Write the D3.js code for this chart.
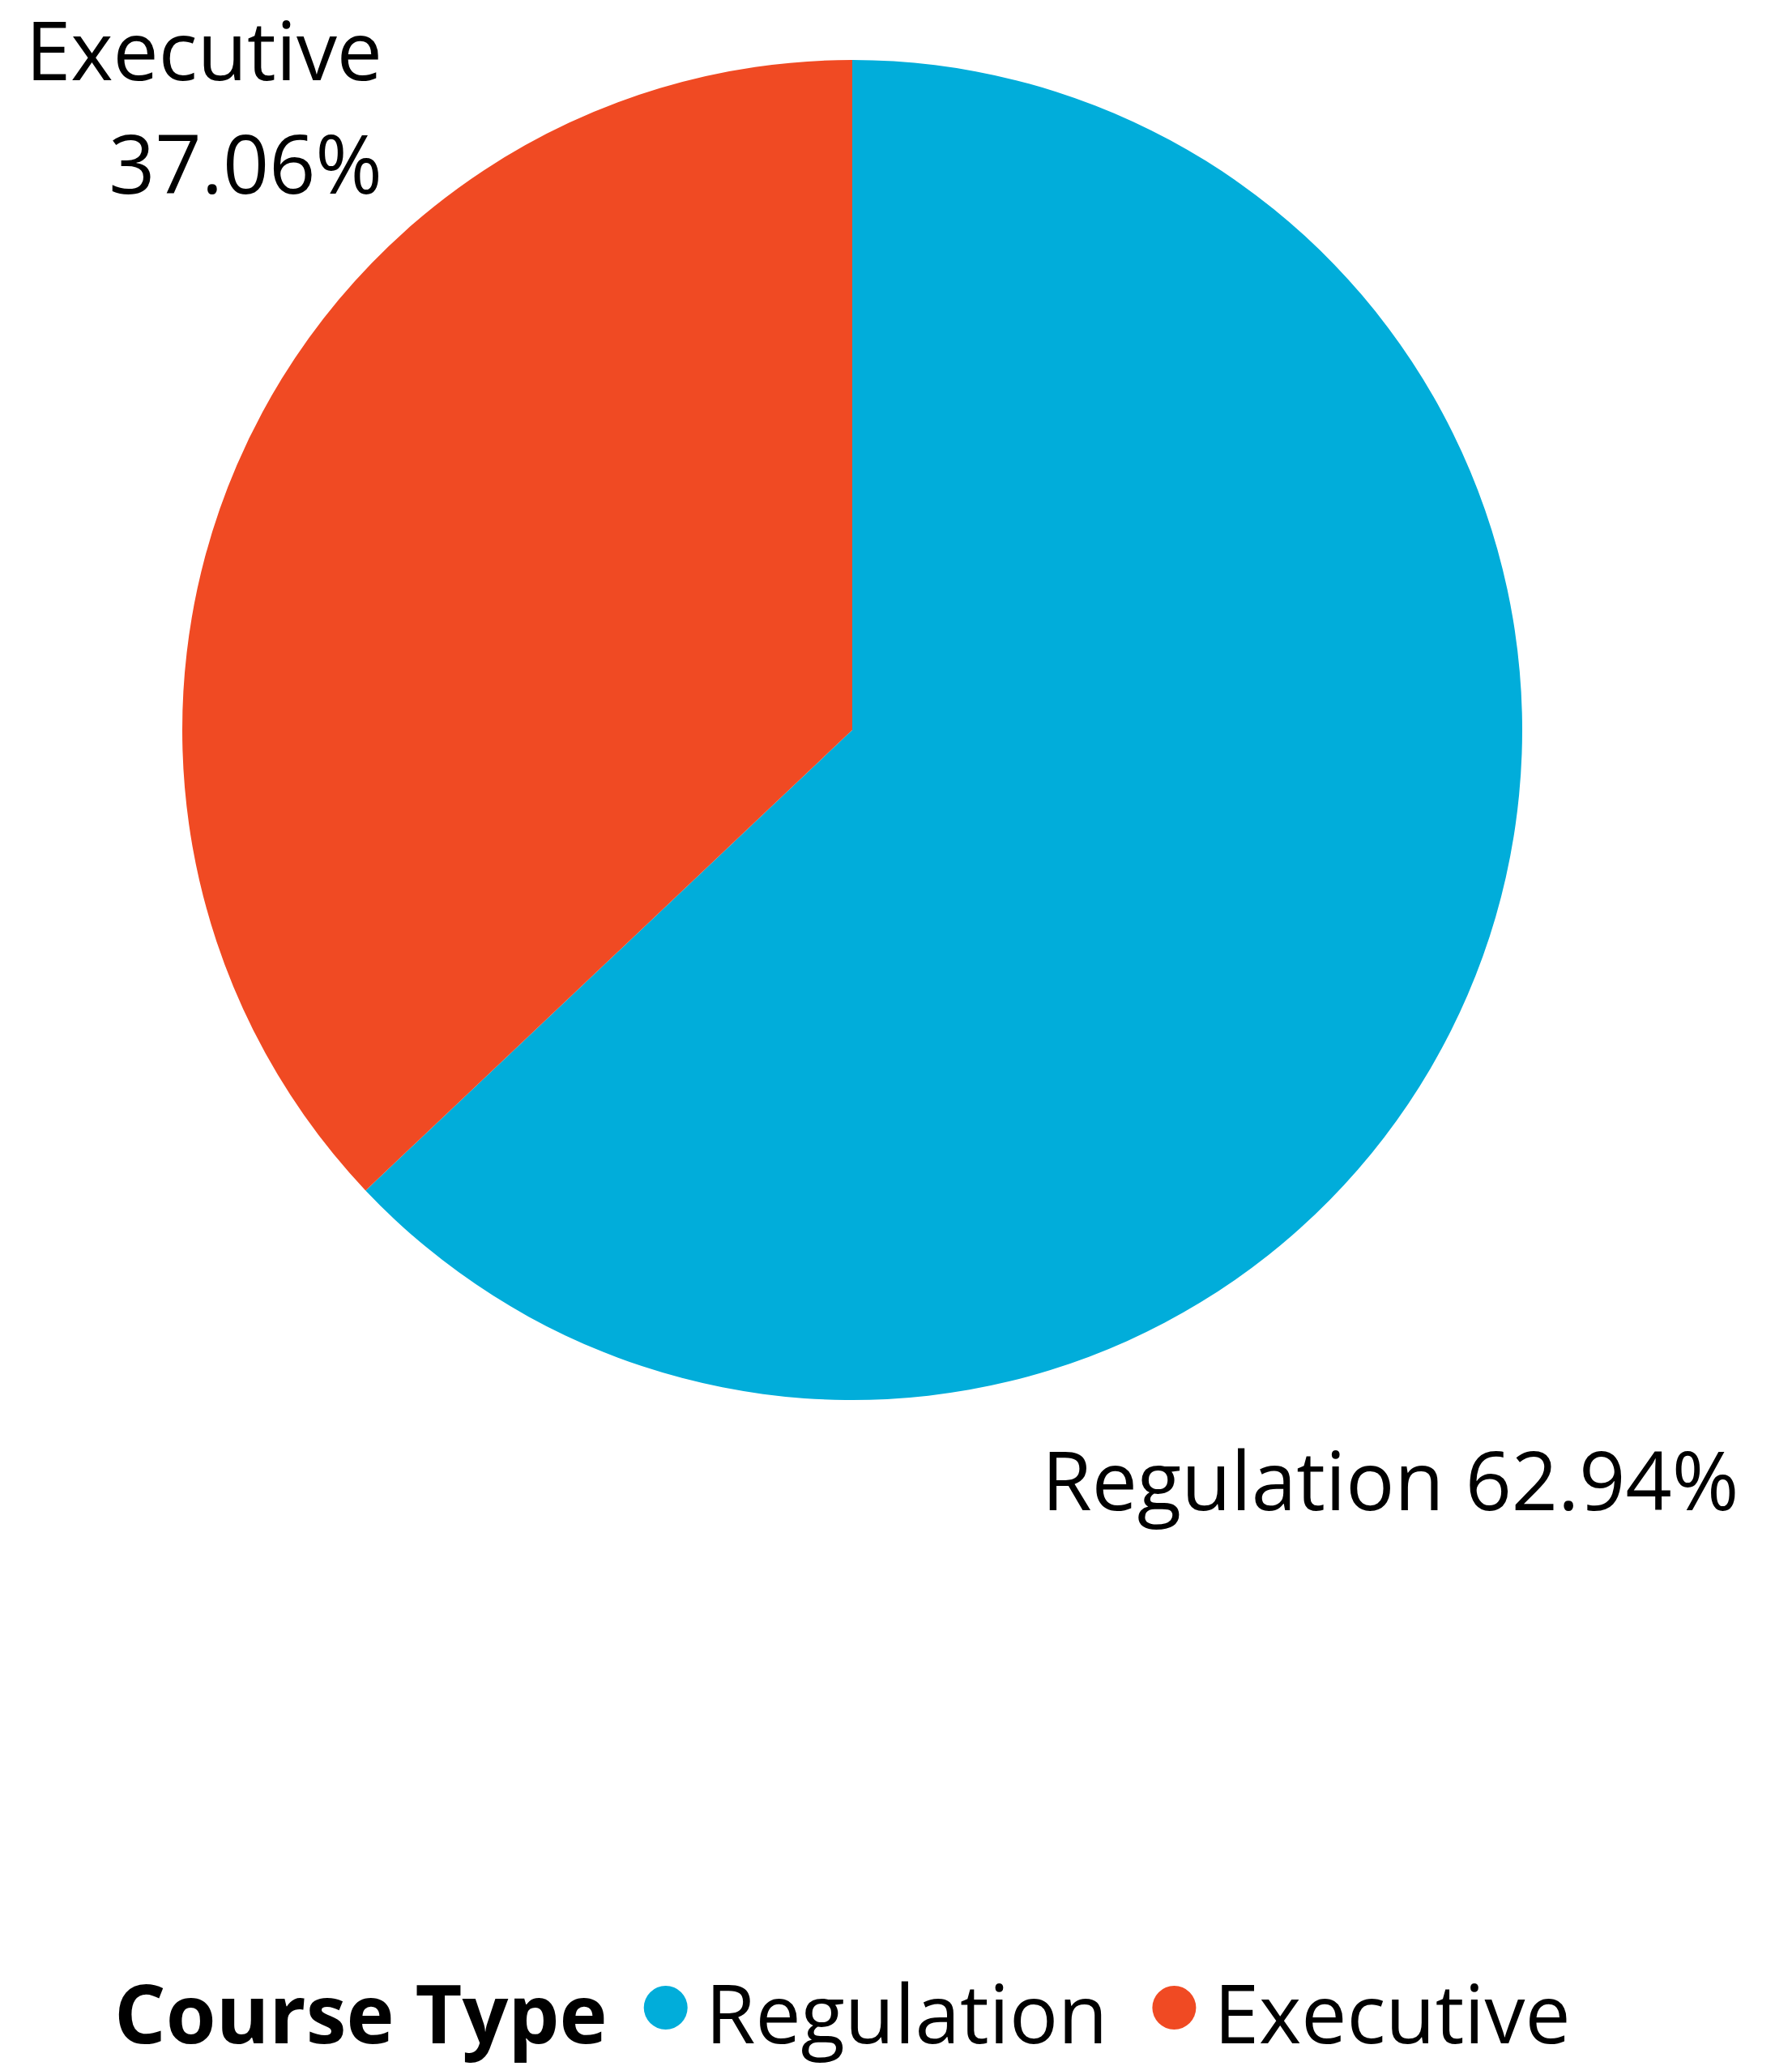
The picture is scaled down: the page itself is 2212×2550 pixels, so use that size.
<!DOCTYPE html>
<html>
<head>
<meta charset="utf-8">
<script src="https://cdn.jsdelivr.net/npm/d3@7"></script>
<style>
  body { margin: 0; background: #fff; }
  text { font-family: "Open Sans", "Noto Sans", sans-serif; fill: #000; }
</style>
</head>
<body>
<div id="vis-container"></div>
<script>
// data
const categories = ["Regulation", "Executive"];
const shares = [62.94, 37.06];
const colours = ["#01ADDA", "#F04A23"];
const legendTitle = "Course Type";

const width = 2212,
	height = 2550,
	cx = 1052,
	cy = 901,
	radius = 827;

const data = categories.map((c, i) => ({ name: c, value: shares[i] }));

let color = d3.scaleOrdinal().domain(categories).range(colours);

let pie = d3.pie().sort(null).value(d => d.value);
let arc = d3.arc().innerRadius(0).outerRadius(radius);

let svg = d3.select("#vis-container")
	.append("svg")
	.attr("width", width)
	.attr("height", height);

let g = svg.append("g").attr("transform", `translate(${cx},${cy})`);

let arcs = pie(data);

g.selectAll("path")
	.data(arcs)
	.enter()
	.append("path")
	.attr("fill", d => color(d.data.name))
	.attr("d", arc);

const fmt = v => v.toFixed(2) + "%";
const fs = 100;

// Regulation label (one line, lower right)
svg.append("text")
	.attr("x", 1286)
	.attr("y", 1864)
	.attr("font-size", fs)
	.text(`${arcs[0].data.name} ${fmt(arcs[0].data.value)}`);

// Executive label (two lines, top left, right aligned)
let ex = svg.append("text")
	.attr("text-anchor", "end")
	.attr("font-size", fs);
ex.append("tspan").attr("x", 472).attr("y", 99).text(arcs[1].data.name);
ex.append("tspan").attr("x", 472).attr("y", 239).text(fmt(arcs[1].data.value));

// legend
let legend = svg.append("g").attr("transform", "translate(141,2522)");
let title = legend.append("text")
	.attr("font-size", fs)
	.attr("font-weight", "bold")
	.text(legendTitle);

let xPos = title.node().getComputedTextLength() + 72;
categories.forEach((c, i) => {
	legend.append("circle")
		.attr("cx", xPos)
		.attr("cy", -44)
		.attr("r", 27)
		.attr("fill", color(c));
	let t = legend.append("text")
		.attr("x", xPos + 49)
		.attr("font-size", fs)
		.text(c);
	xPos += 49 + t.node().getComputedTextLength() + 82;
});
</script>
</body>
</html>
